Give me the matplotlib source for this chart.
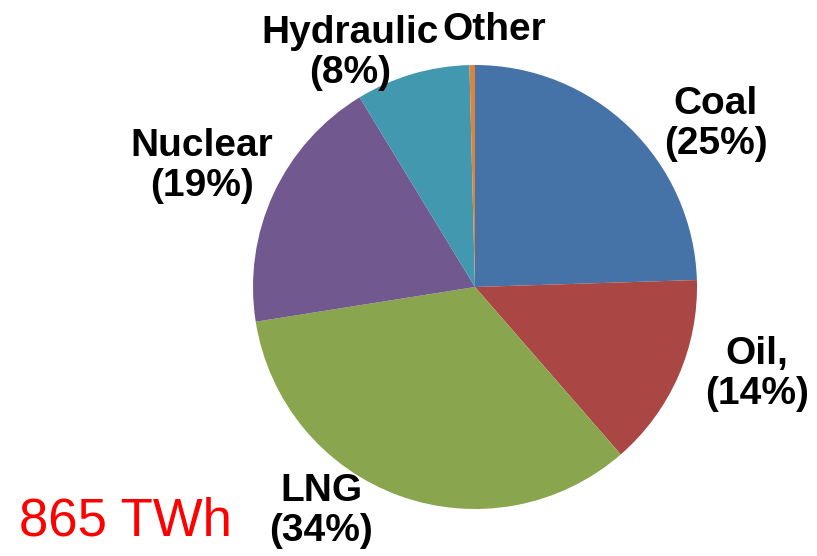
import matplotlib.pyplot as plt

# Share of generation by source
sources = ["Coal", "Oil", "LNG", "Nuclear", "Hydraulic", "Other"]
shares = [24.5, 14.1, 33.9, 18.8, 8.3, 0.4]
labels = ["Coal\n(25%)", "Oil,\n(14%)", "LNG\n(34%)", "Nuclear\n(19%)", "Hydraulic\n(8%)", "Other"]
colors = ["#4572A7", "#AA4643", "#89A54E", "#71588F", "#4198AF", "#DB843D"]

# label anchor points, in pixels from top-left
label_pos = [(716, 124), (757, 374), (321, 511), (202, 166), (350, 53), (494, 30)]
total = "865 TWh"

W, H = 817, 556
fig = plt.figure(figsize=(W / 100, H / 100), dpi=100)
ax = fig.add_axes([0, 0, 1, 1])

ax.pie(shares, colors=colors, startangle=90, counterclock=False,
       center=(475, H - 287), radius=222, wedgeprops=dict(linewidth=0))

for lab, (x, y) in zip(labels, label_pos):
    ax.text(x, H - y, lab, ha="center", va="center", fontsize=28,
            fontweight="bold", family="Liberation Sans", linespacing=1.14)

ax.text(19, H - 521, total, ha="left", va="center", fontsize=38,
        color="red", family="Liberation Sans")

ax.set_xlim(0, W)
ax.set_ylim(0, H)
ax.set_aspect("equal")
ax.axis("off")

fig.savefig("out.png", dpi=100)
